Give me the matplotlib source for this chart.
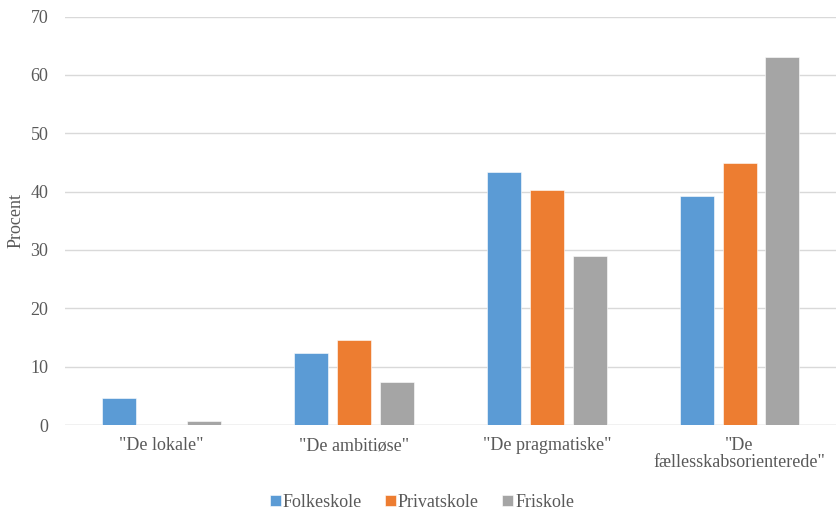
import numpy as np
import matplotlib.pyplot as plt

plt.rcParams['font.family'] = ['Liberation Serif', 'DejaVu Serif']

categories = ['"De lokale"', '"De ambitiøse"', '"De pragmatiske"', '"De\nfællesskabsorienterede"']
series = ['Folkeskole', 'Privatskole', 'Friskole']
folkeskole = [4.7, 12.3, 43.4, 39.3]
privatskole = [0.0, 14.5, 40.3, 44.9]
friskole = [0.6, 7.3, 28.9, 63.1]
values = [folkeskole, privatskole, friskole]
colors = ['#5B9BD5', '#ED7D31', '#A5A5A5']

text_col = '#595959'
fs = 13
fig = plt.figure(figsize=(8.36, 5.12), dpi=100)
ax = fig.add_axes([65/836, 1 - 425/512, 1 - 65/836, (425 - 16.5)/512])

x = np.arange(len(categories))
w = 0.176
step = 0.222
for i, (name, vals, c) in enumerate(zip(series, values, colors)):
    ax.bar(x + (i - 1) * step, vals, width=w, color=c, label=name,
           edgecolor='white', linewidth=0.4, zorder=3)

ax.set_xlim(-0.5, 3.5)
ax.set_ylim(0, 70)
ax.set_yticks(range(0, 71, 10))
ax.set_xticks(x)
ax.set_xticklabels(categories, fontsize=fs, color=text_col, linespacing=0.95)
ax.tick_params(axis='both', length=0, colors=text_col, labelsize=fs)
ax.tick_params(axis='y', pad=12)
ax.tick_params(axis='x', pad=9)
ax.grid(axis='y', color='#D9D9D9', linewidth=1, zorder=0)
for s in ax.spines.values():
    s.set_visible(False)
ax.axhline(0, color='#D9D9D9', linewidth=1, zorder=2)

ax.set_ylabel('Procent', fontsize=fs, color=text_col)
ax.yaxis.set_label_coords(-0.052, 0.5)

fig.legend(loc='lower center', bbox_to_anchor=(422/836, -0.03), ncol=3, frameon=False,
           prop={'family': 'Liberation Serif', 'size': fs},
           handlelength=0.6, handleheight=0.6, handletextpad=0.1,
           columnspacing=1.3, labelcolor=text_col)

fig.savefig('out.png', dpi=100)
